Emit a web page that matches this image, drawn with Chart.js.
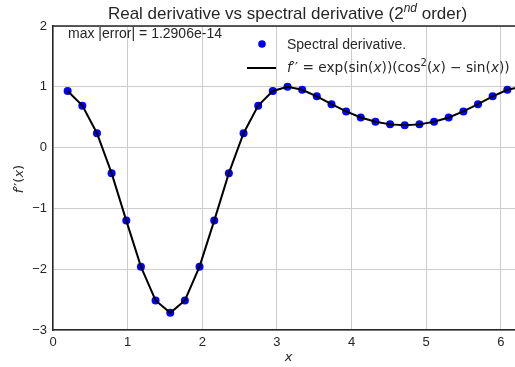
<!DOCTYPE html>
<html>
<head>
<meta charset="utf-8">
<script src="https://cdn.jsdelivr.net/npm/chart.js@4"></script>
<style>
  html, body { margin: 0; padding: 0; overflow: hidden; background: #fff; }
  #wrap { width: 540px; height: 367px; }
</style>
</head>
<body>
<div id="wrap"><canvas id="c" width="540" height="367"></canvas></div>
<script>
// Collocation nodes x_j = 2*pi*j/32, j = 1..32
const xNodes = [0.196, 0.393, 0.589, 0.785, 0.982, 1.178, 1.374, 1.571,
                1.767, 1.963, 2.160, 2.356, 2.553, 2.749, 2.945, 3.142,
                3.338, 3.534, 3.731, 3.927, 4.123, 4.320, 4.516, 4.712,
                4.909, 5.105, 5.301, 5.498, 5.694, 5.890, 6.087, 6.283];
// Second derivative from the spectral method
const spectral = [0.932, 0.690, 0.237, -0.420, -1.201, -1.958, -2.514, -2.718,
                  -2.514, -1.958, -1.201, -0.420, 0.237, 0.690, 0.932, 1.000,
                  0.952, 0.843, 0.715, 0.595, 0.496, 0.425, 0.382, 0.368,
                  0.382, 0.425, 0.496, 0.595, 0.715, 0.843, 0.952, 1.000];
// Exact second derivative at the same nodes
const exact = [0.932, 0.690, 0.237, -0.420, -1.201, -1.958, -2.514, -2.718,
               -2.514, -1.958, -1.201, -0.420, 0.237, 0.690, 0.932, 1.000,
               0.952, 0.843, 0.715, 0.595, 0.496, 0.425, 0.382, 0.368,
               0.382, 0.425, 0.496, 0.595, 0.715, 0.843, 0.952, 1.000];
const xTicks = [0, 1, 2, 3, 4, 5, 6];
const yTicks = [-3, -2, -1, 0, 1, 2];
const maxErrorText = 'max |error| = 1.2906e-14';

const SANS = '"Liberation Sans", Arial, sans-serif';
const MATH = '"DejaVu Sans", sans-serif';
const TEXT_COLOR = '#262626';

function drawRich(ctx, segs, x, y, size, family, align) {
  const fontFor = s => (s.it ? 'italic ' : '') + (s.sup ? Math.round(size * 0.7) : size) + 'px ' + family;
  let total = 0;
  for (const s of segs) { ctx.font = fontFor(s); total += ctx.measureText(s.t).width; }
  let cx = align === 'center' ? x - total / 2 : x;
  ctx.textAlign = 'left';
  ctx.textBaseline = 'alphabetic';
  for (const s of segs) {
    ctx.font = fontFor(s);
    ctx.fillText(s.t, cx, s.sup ? y - size * 0.42 : y);
    cx += ctx.measureText(s.t).width;
  }
}

const annotations = {
  id: 'annotations',
  afterDraw(chart) {
    const ctx = chart.ctx;
    const a = chart.chartArea;
    ctx.save();
    // top spine
    ctx.strokeStyle = '#262626';
    ctx.lineWidth = 1.5;
    ctx.beginPath();
    ctx.moveTo(a.left - 0.75, a.top);
    ctx.lineTo(a.right, a.top);
    ctx.stroke();

    ctx.fillStyle = TEXT_COLOR;
    // title
    drawRich(ctx, [
      { t: 'Real derivative vs spectral derivative (2' },
      { t: 'nd', it: true, sup: true },
      { t: ' order)' }
    ], (a.left + a.right) / 2, 19, 17, SANS, 'center');

    // error annotation
    ctx.font = '14px ' + SANS;
    ctx.textAlign = 'left';
    ctx.textBaseline = 'middle';
    ctx.fillText(maxErrorText, 68, 34);

    // legend
    ctx.fillStyle = '#0000ff';
    ctx.beginPath();
    ctx.arc(262, 44, 3.8, 0, Math.PI * 2);
    ctx.fill();
    ctx.fillStyle = TEXT_COLOR;
    ctx.font = '14px ' + SANS;
    ctx.fillText('Spectral derivative.', 287, 45);
    ctx.strokeStyle = '#000';
    ctx.lineWidth = 2;
    ctx.beginPath();
    ctx.moveTo(247, 68);
    ctx.lineTo(276, 68);
    ctx.stroke();
    drawRich(ctx, [
      { t: 'f', it: true }, { t: '′′ = exp(sin(' }, { t: 'x', it: true },
      { t: '))(cos' }, { t: '2', sup: true }, { t: '(' }, { t: 'x', it: true },
      { t: ') − sin(' }, { t: 'x', it: true }, { t: '))' }
    ], 287, 72, 13.7, MATH, 'left');

    // axis titles
    drawRich(ctx, [{ t: 'x', it: true }], (a.left + 522) / 2 + 1, 361, 13, MATH, 'center');
    ctx.translate(23, 179);
    ctx.rotate(-Math.PI / 2);
    drawRich(ctx, [{ t: 'f', it: true }, { t: '′′(' }, { t: 'x', it: true }, { t: ')' }], 0, 0, 13, MATH, 'center');
    ctx.restore();
  }
};

const fmt = v => (v < 0 ? '\u2212' + Math.abs(v) : String(v));

new Chart(document.getElementById('c'), {
  type: 'scatter',
  data: {
    datasets: [
      {
        type: 'line',
        label: 'exact',
        data: xNodes.map((x, i) => ({ x, y: exact[i] })),
        borderColor: '#000',
        borderWidth: 2,
        pointRadius: 0,
        tension: 0,
        fill: false,
        order: 0
      },
      {
        label: 'Spectral derivative.',
        data: xNodes.map((x, i) => ({ x, y: spectral[i] })),
        backgroundColor: '#0000ff',
        borderWidth: 0,
        pointRadius: 4,
        order: 1
      }
    ]
  },
  options: {
    responsive: false,
    animation: false,
    devicePixelRatio: 1,
    layout: { padding: { top: 26, right: 18, left: 0, bottom: 0 } },
    plugins: { legend: { display: false }, title: { display: false }, tooltip: { enabled: false } },
    scales: {
      x: {
        type: 'linear',
        min: 0,
        max: 2 * Math.PI,
        afterBuildTicks: s => { s.ticks = xTicks.map(v => ({ value: v })); },
        afterFit: s => { s.height = 37; },
        grid: { color: '#cccccc', lineWidth: 1, drawTicks: false },
        border: { display: true, color: '#262626', width: 1.5 },
        ticks: { color: TEXT_COLOR, font: { family: SANS, size: 13 }, padding: 5, callback: fmt, maxRotation: 0 }
      },
      y: {
        type: 'linear',
        min: -3,
        max: 2,
        afterBuildTicks: s => { s.ticks = yTicks.map(v => ({ value: v })); },
        afterFit: s => { s.width = 53; },
        grid: { color: '#cccccc', lineWidth: 1, drawTicks: false },
        border: { display: true, color: '#262626', width: 1.5 },
        ticks: { color: TEXT_COLOR, font: { family: SANS, size: 13 }, padding: 6, callback: fmt }
      }
    }
  },
  plugins: [annotations]
});
</script>
</body>
</html>
